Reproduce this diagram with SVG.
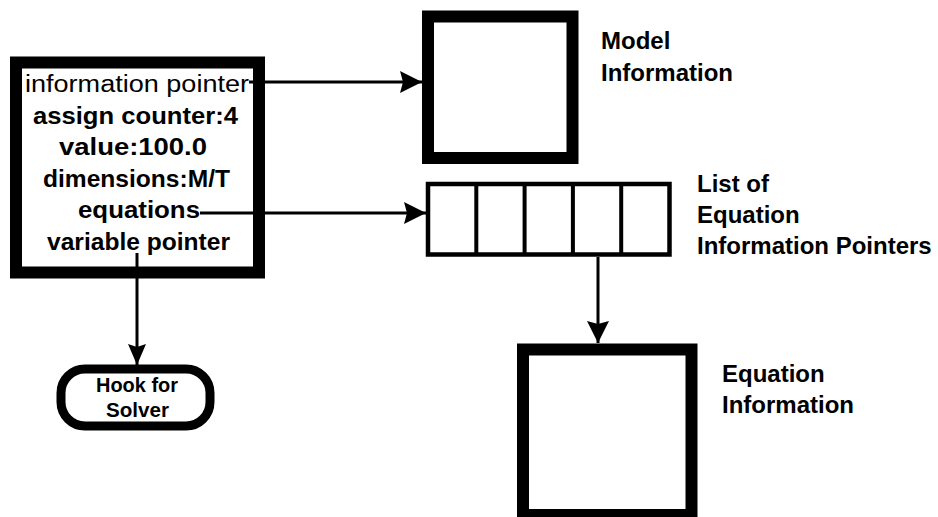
<svg xmlns="http://www.w3.org/2000/svg" width="938" height="517" viewBox="0 0 938 517">
  <style>
    .box { fill: #fff; stroke: #000; stroke-width: 12; }
    .list { fill: #fff; stroke: #000; stroke-width: 4.5; }
    .cell { stroke: #000; stroke-width: 4; }
    .hook { fill: #fff; stroke: #000; stroke-width: 9; }
    .link { fill: none; stroke: #000; stroke-width: 3; }
    .field { font-family: "Liberation Sans", Arial, sans-serif; font-size: 23.5px; font-weight: bold; fill: #000; }
    .plain { font-weight: normal; }
    .label { font-family: "Liberation Sans", Arial, sans-serif; font-size: 24px; font-weight: bold; fill: #000; }
    .hooktxt { font-family: "Liberation Sans Narrow", "Liberation Sans", Arial, sans-serif; font-size: 21px; font-weight: bold; fill: #000; }
  </style>
  <defs>
    <marker id="head" markerUnits="userSpaceOnUse" markerWidth="24" markerHeight="24" refX="22" refY="11" orient="auto">
      <path d="M0,0 L22,11 L0,22 L3,11 Z" fill="#000"/>
    </marker>
    <marker id="headSmall" markerUnits="userSpaceOnUse" markerWidth="22" markerHeight="20" refX="21" refY="9" orient="auto">
      <path d="M0,0 L21,9 L0,18 L3,9 Z" fill="#000"/>
    </marker>
  </defs>

  <rect width="938" height="517" fill="#fff"/>

  <!-- variable record -->
  <g id="variable">
    <rect class="box" x="16" y="62.5" width="243" height="210"/>
    <text class="field plain" x="25" y="92" textLength="224" lengthAdjust="spacingAndGlyphs">information pointer</text>
    <text class="field" x="33" y="123.5" textLength="205" lengthAdjust="spacingAndGlyphs">assign counter:4</text>
    <text class="field" x="59" y="155" textLength="148" lengthAdjust="spacingAndGlyphs">value:100.0</text>
    <text class="field" x="43" y="186.5" textLength="187" lengthAdjust="spacingAndGlyphs">dimensions:M/T</text>
    <text class="field" x="78" y="218" textLength="122" lengthAdjust="spacingAndGlyphs">equations</text>
    <text class="field" x="47" y="249.5" textLength="183" lengthAdjust="spacingAndGlyphs">variable pointer</text>
  </g>

  <!-- model information -->
  <g id="model">
    <rect class="box" x="428" y="16.5" width="144.5" height="141.5"/>
    <text class="label" x="601" y="49">Model</text>
    <text class="label" x="601" y="81">Information</text>
  </g>

  <!-- list of equation information pointers -->
  <g id="eqlist">
    <rect class="list" x="428" y="184" width="241.5" height="70.5"/>
    <line class="cell" x1="476.3" y1="184" x2="476.3" y2="254.5"/>
    <line class="cell" x1="524.6" y1="184" x2="524.6" y2="254.5"/>
    <line class="cell" x1="572.9" y1="184" x2="572.9" y2="254.5"/>
    <line class="cell" x1="621.2" y1="184" x2="621.2" y2="254.5"/>
    <text class="label" x="697" y="192">List of</text>
    <text class="label" x="697" y="223">Equation</text>
    <text class="label" x="697" y="254">Information Pointers</text>
  </g>

  <!-- equation information -->
  <g id="equation">
    <rect class="box" x="523" y="349.5" width="168.5" height="165.5"/>
    <text class="label" x="722" y="382">Equation</text>
    <text class="label" x="722" y="413">Information</text>
  </g>

  <!-- solver hook -->
  <g id="hook">
    <rect class="hook" x="61" y="369" width="149" height="57" rx="24" ry="24"/>
    <text class="hooktxt" x="96" y="392" textLength="82" lengthAdjust="spacingAndGlyphs">Hook for</text>
    <text class="hooktxt" x="106" y="417" textLength="63" lengthAdjust="spacingAndGlyphs">Solver</text>
  </g>

  <!-- connectors -->
  <g id="connectors">
    <path class="link" d="M249,82 H422" marker-end="url(#head)"/>
    <path class="link" d="M200,213 H426" marker-end="url(#head)"/>
    <path class="link" d="M598,257 V343" marker-end="url(#head)"/>
    <path class="link" d="M137,253 V365" marker-end="url(#headSmall)"/>
  </g>
</svg>
